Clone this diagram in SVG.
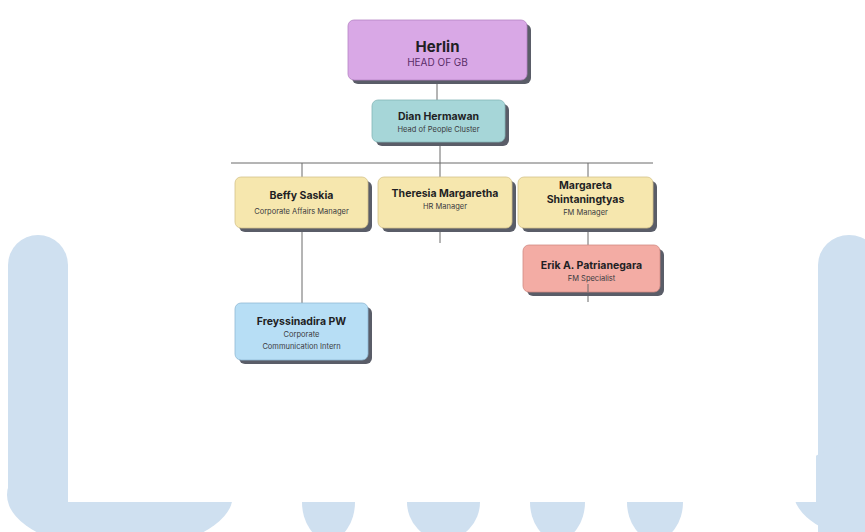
<svg xmlns="http://www.w3.org/2000/svg" width="865" height="532" viewBox="0 0 865 532">
<style>
.wm{fill:#cfe0f0}
.sh{fill:#5a5d68}
.box{stroke-width:0.8}
.n{font-family:Inter,"Open Sans","Liberation Sans",sans-serif;font-weight:700;fill:#1f1f24;text-anchor:middle}
.t{font-family:Inter,"Open Sans","Liberation Sans",sans-serif;font-weight:400;fill:#3a3a40;text-anchor:middle}
.ln{stroke:#6a6a6a;stroke-width:1;fill:none}
</style>
<rect width="865" height="532" fill="#ffffff"/>
<g id="watermark">
<path class="wm" d="M8,265 A30,30 0 0 1 68,265 L68,500 L8,500 Z"/>
<ellipse class="wm" cx="120" cy="495" rx="113" ry="55"/>
<path class="wm" d="M818,265 A31,30 0 0 1 880,265 L880,540 L818,540 Z"/>
<ellipse class="wm" cx="870" cy="490" rx="77" ry="48"/>
<ellipse class="wm" cx="328.5" cy="502" rx="26.5" ry="38"/>
<ellipse class="wm" cx="443.5" cy="502" rx="36.5" ry="38"/>
<ellipse class="wm" cx="557.5" cy="502" rx="27.5" ry="38"/>
<ellipse class="wm" cx="655" cy="502" rx="28" ry="38"/>
<rect x="68" y="0" width="748" height="502" fill="#ffffff"/>
</g>
<g id="connectors">
<line class="ln" x1="437" y1="80" x2="437" y2="100"/>
<line class="ln" x1="440" y1="142" x2="440" y2="163"/>
<line class="ln" x1="231" y1="163" x2="653" y2="163"/>
<line class="ln" x1="302" y1="163" x2="302" y2="177"/>
<line class="ln" x1="440" y1="163" x2="440" y2="177"/>
<line class="ln" x1="588" y1="163" x2="588" y2="177"/>
<line class="ln" x1="302" y1="228" x2="302" y2="303"/>
<line class="ln" x1="440" y1="228" x2="440" y2="243"/>
<line class="ln" x1="588" y1="228" x2="588" y2="245"/>
<line class="ln" x1="588" y1="284" x2="588" y2="302"/>
</g>
<g id="herlin">
<rect class="sh" x="352" y="24" width="179" height="60" rx="6"/>
<rect class="box" x="348" y="20" width="179" height="60" rx="6" fill="#d9a8e6" stroke="#b583c4"/>
<text class="n" x="437.5" y="52" font-size="15">Herlin</text>
<text class="t" x="437.5" y="66" font-size="10" style="fill:#5a2d68">HEAD OF GB</text>
</g>
<g id="dian">
<rect class="sh" x="376" y="104" width="133" height="42" rx="6"/>
<rect class="box" x="372" y="100" width="133" height="42" rx="6" fill="#a6d6d8" stroke="#84b6b8"/>
<text class="n" x="438.5" y="120" font-size="10.5">Dian Hermawan</text>
<text class="t" x="438.5" y="132" font-size="7.5">Head of People Cluster</text>
</g>
<g id="beffy">
<rect class="sh" x="239" y="181" width="133" height="51" rx="6"/>
<rect class="box" x="235" y="177" width="133" height="51" rx="6" fill="#f6e7ae" stroke="#d4c38a"/>
<text class="n" x="301.5" y="199" font-size="10.5">Beffy Saskia</text>
<text class="t" x="301.5" y="214" font-size="7.5">Corporate Affairs Manager</text>
</g>
<g id="theresia">
<rect class="sh" x="382" y="181" width="134" height="51" rx="6"/>
<rect class="box" x="378" y="177" width="134" height="51" rx="6" fill="#f6e7ae" stroke="#d4c38a"/>
<text class="n" x="445" y="197" font-size="10.5">Theresia Margaretha</text>
<text class="t" x="445" y="209" font-size="7.5">HR Manager</text>
</g>
<g id="margareta">
<rect class="sh" x="522" y="181" width="135" height="51" rx="6"/>
<rect class="box" x="518" y="177" width="135" height="51" rx="6" fill="#f6e7ae" stroke="#d4c38a"/>
<text class="n" x="585.5" y="189" font-size="10.5">Margareta</text>
<text class="n" x="585.5" y="203" font-size="10.5">Shintaningtyas</text>
<text class="t" x="585.5" y="215" font-size="7.5">FM Manager</text>
</g>
<g id="erik">
<rect class="sh" x="527" y="249" width="137" height="47" rx="6"/>
<rect class="box" x="523" y="245" width="137" height="47" rx="6" fill="#f3aca4" stroke="#d08a83"/>
<text class="n" x="591.5" y="269" font-size="10.5">Erik A. Patrianegara</text>
<text class="t" x="591.5" y="281" font-size="7.5">FM Specialist</text>
<line class="ln" x1="588" y1="284" x2="588" y2="292"/>
</g>
<g id="freyssinadira">
<rect class="sh" x="239" y="307" width="133" height="57" rx="6"/>
<rect class="box" x="235" y="303" width="133" height="57" rx="6" fill="#b7def5" stroke="#8fb9d4"/>
<text class="n" x="301.5" y="325" font-size="10.5">Freyssinadira PW</text>
<text class="t" x="301.5" y="337" font-size="7.5">Corporate</text>
<text class="t" x="301.5" y="349" font-size="7.5">Communication Intern</text>
</g>
</svg>
